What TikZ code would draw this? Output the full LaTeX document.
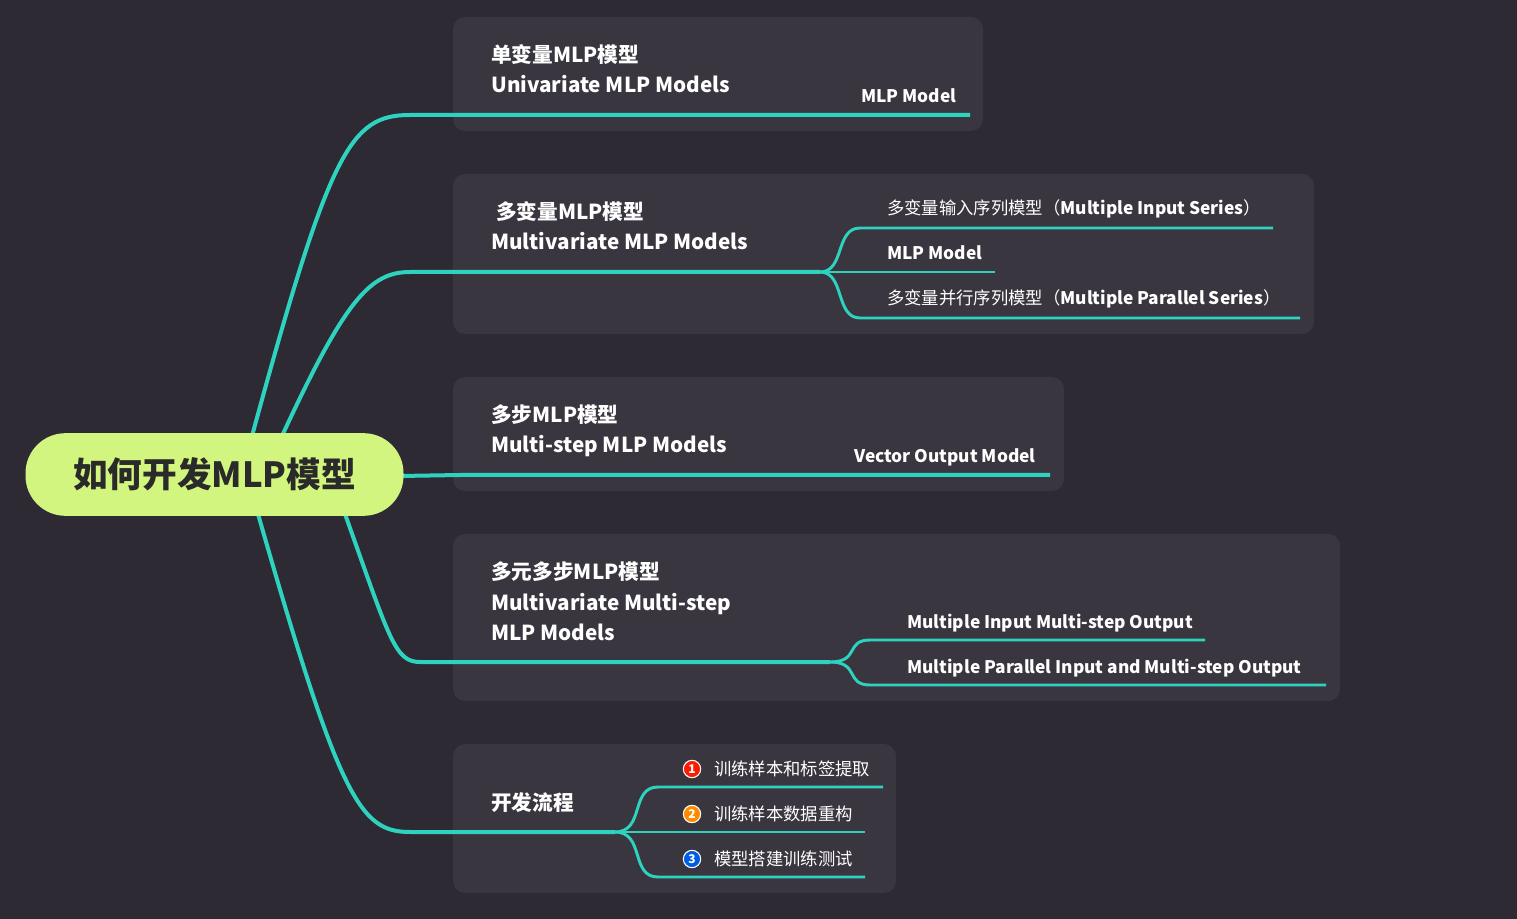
\documentclass[tikz,border=0pt]{standalone}
\usepackage{fontspec}
\setmainfont{Noto Sans CJK SC}
\definecolor{bg}{HTML}{2E2A33}
\definecolor{boxc}{HTML}{3A363F}
\definecolor{teal}{HTML}{2ED3BF}
\definecolor{lime}{HTML}{D2F57F}
\definecolor{ink}{HTML}{2A2A2A}
\tikzset{
 card/.style={fill=boxc,rounded corners=9pt},
 tl/.style={anchor=base west,text=white,font=\fontsize{15.5}{16}\selectfont\bfseries,inner sep=0pt},
 lb/.style={anchor=base west,text=white,font=\fontsize{13}{14}\selectfont,inner sep=0pt},
 br/.style={draw=teal,line width=3pt},
 sb/.style={draw=teal,line width=2.2pt},
 num/.style={circle,draw=white,line width=0.8pt,inner sep=0pt,minimum size=13pt,text=white,font=\fontsize{9}{9}\selectfont\bfseries}
}
\begin{document}
\begin{tikzpicture}[x=0.75pt,y=-0.75pt]
\fill[bg] (0,0) rectangle (1517,919);
\useasboundingbox (0,0) rectangle (1517,919);
% cards
\fill[card] (453,17) rectangle (983,131);
\fill[card] (453,174) rectangle (1314,334);
\fill[card] (453,377) rectangle (1064,491);
\fill[card] (453,534) rectangle (1340,701);
\fill[card] (453,744) rectangle (896,893);
% coordinates
\coordinate (s1) at (252,436);
\coordinate (s2) at (282,436);
\coordinate (s3) at (400,476);
\coordinate (s4) at (345,514);
\coordinate (s5) at (258,514);
\coordinate (e1) at (410,115); \coordinate (f1) at (970,115);
\coordinate (e2) at (410,272); \coordinate (f2) at (820,272);
\coordinate (e3) at (460,475); \coordinate (f3) at (1050,475);
\coordinate (e4) at (420,662); \coordinate (f4) at (830,662);
\coordinate (e5) at (410,832); \coordinate (f5) at (615,832);
% main branches
\draw[br] (s1) .. controls (330,150) and (350,115) .. (e1) -- (f1);
\draw[br] (s2) .. controls (345,300) and (370,272) .. (e2) -- (f2);
\draw[br] (s3) -- (e3) -- (f3);
\draw[br] (s4) .. controls (390,640) and (395,662) .. (e4) -- (f4);
\draw[br] (s5) .. controls (340,800) and (360,832) .. (e5) -- (f5);
% sub-branches box2
\coordinate (g1) at (860,228); \coordinate (h1) at (1273,228);
\coordinate (g2) at (860,272); \coordinate (h2) at (995,272);
\coordinate (g3) at (860,318); \coordinate (h3) at (1300,318);
\draw[sb] (f2) .. controls (845,272) and (835,228) .. (g1) -- (h1);
\draw[sb] (f2) -- (g2) -- (h2);
\draw[sb] (f2) .. controls (845,272) and (835,318) .. (g3) -- (h3);
% box4
\coordinate (g4) at (870,640); \coordinate (h4) at (1205,640);
\coordinate (g5) at (870,685); \coordinate (h5) at (1326,685);
\draw[sb] (f4) .. controls (860,662) and (845,640) .. (g4) -- (h4);
\draw[sb] (f4) .. controls (860,662) and (845,685) .. (g5) -- (h5);
% box5
\coordinate (g6) at (658,787); \coordinate (h6) at (883,787);
\coordinate (g7) at (658,832); \coordinate (h7) at (865,832);
\coordinate (g8) at (658,877); \coordinate (h8) at (865,877);
\draw[sb] (f5) .. controls (645,832) and (630,787) .. (g6) -- (h6);
\draw[sb] (f5) -- (g7) -- (h7);
\draw[sb] (f5) .. controls (645,832) and (630,877) .. (g8) -- (h8);
% center
\node[fill=lime,rounded corners=30pt,minimum width=283.5pt,minimum height=62pt,text=ink,font=\fontsize{26}{28}\selectfont\bfseries] (c) at (214.5,474.5) {如何开发MLP模型};
% texts
\node[tl] (t1a) at (491,63) {单变量MLP模型};
\node[tl] (t1b) at (491,93) {Univariate MLP Models};
\node[lb,font=\fontsize{13}{14}\selectfont\bfseries] (l1) at (861,103) {MLP Model};
\node[tl] (t2a) at (496,220) {多变量MLP模型};
\node[tl] (t2b) at (491,250) {Multivariate MLP Models};
\node[lb] (l2) at (887,215) {多变量输入序列模型（\textbf{Multiple Input Series}）};
\node[lb] (l3) at (887,260) {\textbf{MLP Model}};
\node[lb] (l4) at (887,305) {多变量并行序列模型（\textbf{Multiple Parallel Series}）};
\node[tl] (t3a) at (491,423) {多步MLP模型};
\node[tl] (t3b) at (491,453) {Multi-step MLP Models};
\node[lb] (l5) at (854,463) {\textbf{Vector Output Model}};
\node[tl] (t4a) at (491,580) {多元多步MLP模型};
\node[tl] (t4b) at (491,610) {Multivariate Multi-step};
\node[tl] (t4c) at (491,640) {MLP Models};
\node[lb] (l6) at (907,628) {\textbf{Multiple Input Multi-step Output}};
\node[lb] (l7) at (907,673) {\textbf{Multiple Parallel Input and Multi-step Output}};
\node[tl] (t5) at (491,810) {开发流程};
\node[num,fill=red!80!orange] (n1) at (692,769) {1};
\node[num,fill=orange!90!yellow] (n2) at (692,814) {2};
\node[num,fill=blue!60!cyan!90!black] (n3) at (692,859) {3};
\node[lb] (l8) at (714,775) {训练样本和标签提取};
\node[lb] (l9) at (714,820) {训练样本数据重构};
\node[lb] (l10) at (714,865) {模型搭建训练测试};
\end{tikzpicture}
\end{document}
